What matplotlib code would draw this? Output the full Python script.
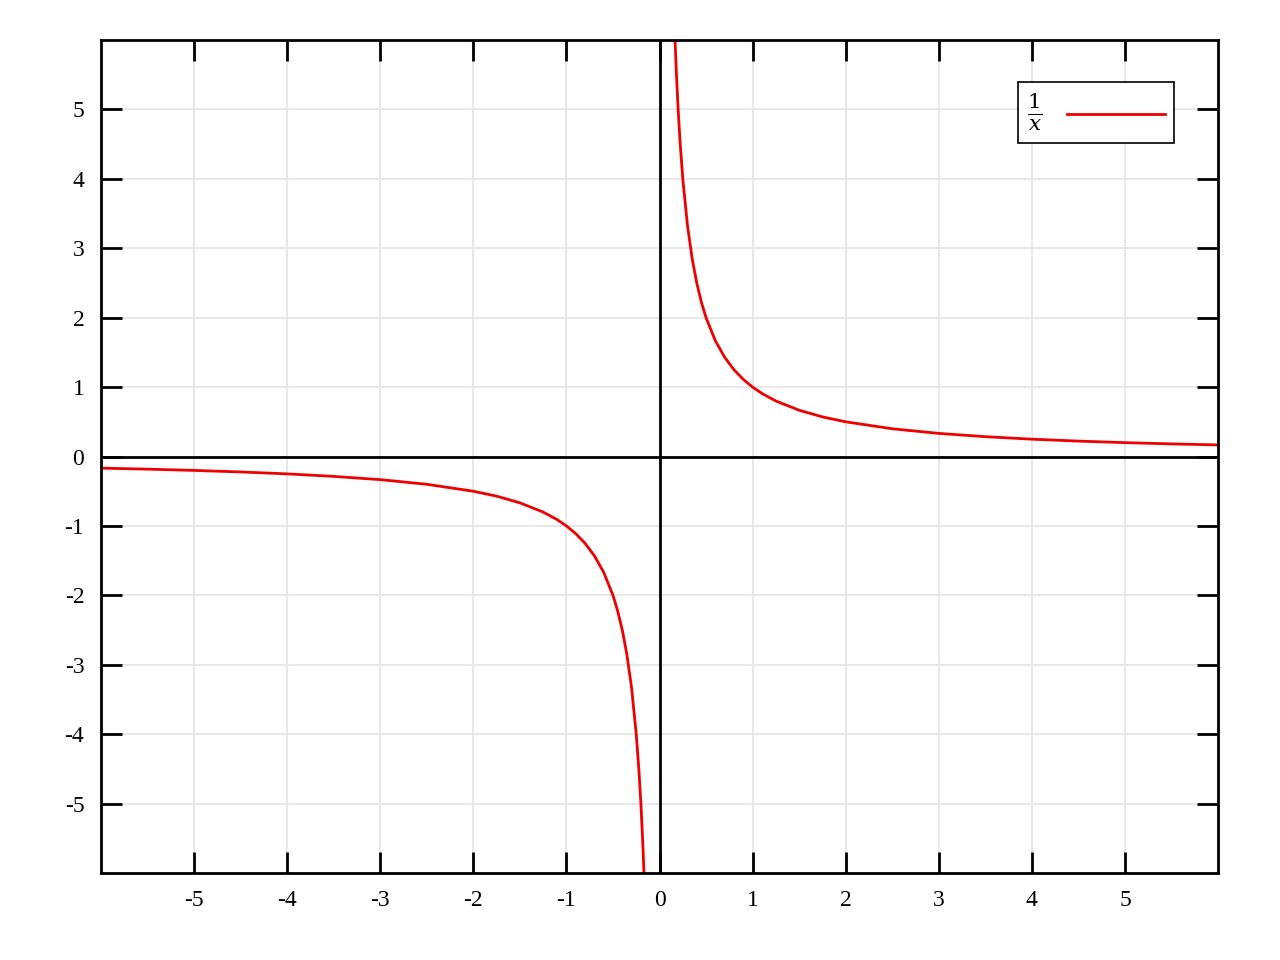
import matplotlib
matplotlib.use("Agg")
import matplotlib.pyplot as plt

plt.rcParams['font.family'] = ['Liberation Serif', 'DejaVu Serif']
plt.rcParams['mathtext.fontset'] = 'dejavuserif'

neg_x = [-6, -5.5, -5, -4.5, -4, -3.5, -3, -2.5, -2, -1.75, -1.5, -1.25, -1.1, -1, -0.9, -0.8, -0.7, -0.6, -0.5, -0.45, -0.4, -0.35, -0.3, -0.25, -0.22, -0.2, -0.18, -0.167]
neg_y = [-0.167, -0.182, -0.2, -0.222, -0.25, -0.286, -0.333, -0.4, -0.5, -0.571, -0.667, -0.8, -0.909, -1, -1.111, -1.25, -1.429, -1.667, -2, -2.222, -2.5, -2.857, -3.333, -4, -4.545, -5, -5.556, -6]
pos_x = [0.167, 0.18, 0.2, 0.22, 0.25, 0.3, 0.35, 0.4, 0.45, 0.5, 0.6, 0.7, 0.8, 0.9, 1, 1.1, 1.25, 1.5, 1.75, 2, 2.5, 3, 3.5, 4, 4.5, 5, 5.5, 6]
pos_y = [6, 5.556, 5, 4.545, 4, 3.333, 2.857, 2.5, 2.222, 2, 1.667, 1.429, 1.25, 1.111, 1, 0.909, 0.8, 0.667, 0.571, 0.5, 0.4, 0.333, 0.286, 0.25, 0.222, 0.2, 0.182, 0.167]
ticks = [-5, -4, -3, -2, -1, 0, 1, 2, 3, 4, 5]

fig = plt.figure(figsize=(12.8, 9.6), dpi=100)
ax = fig.add_axes([0.0789, 0.0906, 0.8727, 0.8677])
ax.set_xlim(-6, 6)
ax.set_ylim(-6, 6)
ax.grid(color='#e8e8e8', lw=1.5)
ax.axhline(0, color='black', lw=2)
ax.axvline(0, color='black', lw=2)
line, = ax.plot(neg_x, neg_y, color='#ee0000', lw=2, label=r'$\frac{1}{x}$')
ax.plot(pos_x, pos_y, color='#ee0000', lw=2)
ax.set_xticks(ticks)
ax.set_yticks(ticks)
ax.set_xticklabels([str(t) for t in ticks])
ax.set_yticklabels([str(t) for t in ticks])
ax.tick_params(direction='in', length=15, width=2, top=True, right=True, labelsize=17, pad=12)
for s in ax.spines.values():
    s.set_linewidth(2)
leg = ax.legend(loc='upper right', markerfirst=False, fontsize=22, fancybox=False,
                edgecolor='black', framealpha=1, handlelength=3.2, borderpad=0.3,
                bbox_to_anchor=(0.974, 0.968))
leg.get_frame().set_linewidth(1.2)
fig.savefig('out.png')
